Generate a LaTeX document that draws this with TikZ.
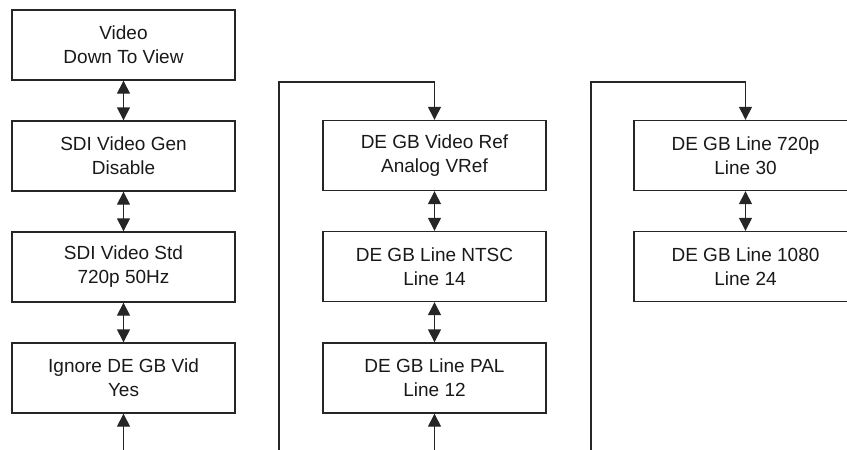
\documentclass[tikz,border=0pt]{standalone}
\usepackage{fontspec}
\setmainfont{Liberation Sans}
\usetikzlibrary{arrows.meta}
\tikzset{
  menubox/.style={draw=black!85, line width=1.4pt, minimum width=223pt, minimum height=70pt,
    inner sep=0pt, align=center, font=\fontsize{19pt}{24pt}\selectfont, text=black!90},
  link/.style={draw=black!85, line width=1.4pt},
  tip/.style={-{Triangle[width=13pt,length=13pt]}},
  dtip/.style={{Triangle[width=13pt,length=13pt]}-{Triangle[width=13pt,length=13pt]}},
}
\begin{document}
\begin{tikzpicture}[x=1pt,y=-1pt]
\useasboundingbox (0,0) rectangle (847,450);
\clip (0,0) rectangle (847,450);
% column 1
\node[menubox] (a1) at (123.5,45) {Video\\Down To View};
\node[menubox] (a2) at (123.5,156) {SDI Video Gen\\Disable};
\node[menubox] (a3) at (123.5,267) {SDI Video Std\\720p 50Hz};
\node[menubox] (a4) at (123.5,378) {Ignore DE GB Vid\\Yes};
\coordinate (a5) at (123.5,452);
\draw[link,dtip] (a1.south) -- (a2.north);
\draw[link,dtip] (a2.south) -- (a3.north);
\draw[link,dtip] (a3.south) -- (a4.north);
\draw[link,tip] (a5) -- (a4.south);
% column 2
\node[menubox] (b1) at (434.5,155.5) {DE GB Video Ref\\Analog VRef};
\node[menubox] (b2) at (434.5,266.5) {DE GB Line NTSC\\Line 14};
\node[menubox] (b3) at (434.5,378) {DE GB Line PAL\\Line 12};
\coordinate (b0) at (279,452);
\coordinate (b0c) at (279,82);
\coordinate (b4) at (434.5,452);
\draw[link,tip] (b0) -- (b0c) -| (b1.north);
\draw[link,dtip] (b1.south) -- (b2.north);
\draw[link,dtip] (b2.south) -- (b3.north);
\draw[link,tip] (b4) -- (b3.south);
% column 3
\node[menubox] (c1) at (745.5,155.5) {DE GB Line 720p\\Line 30};
\node[menubox] (c2) at (745.5,266.5) {DE GB Line 1080\\Line 24};
\coordinate (c0) at (591,452);
\coordinate (c0c) at (591,82);
\draw[link,tip] (c0) -- (c0c) -| (c1.north);
\draw[link,dtip] (c1.south) -- (c2.north);
\end{tikzpicture}
\end{document}
